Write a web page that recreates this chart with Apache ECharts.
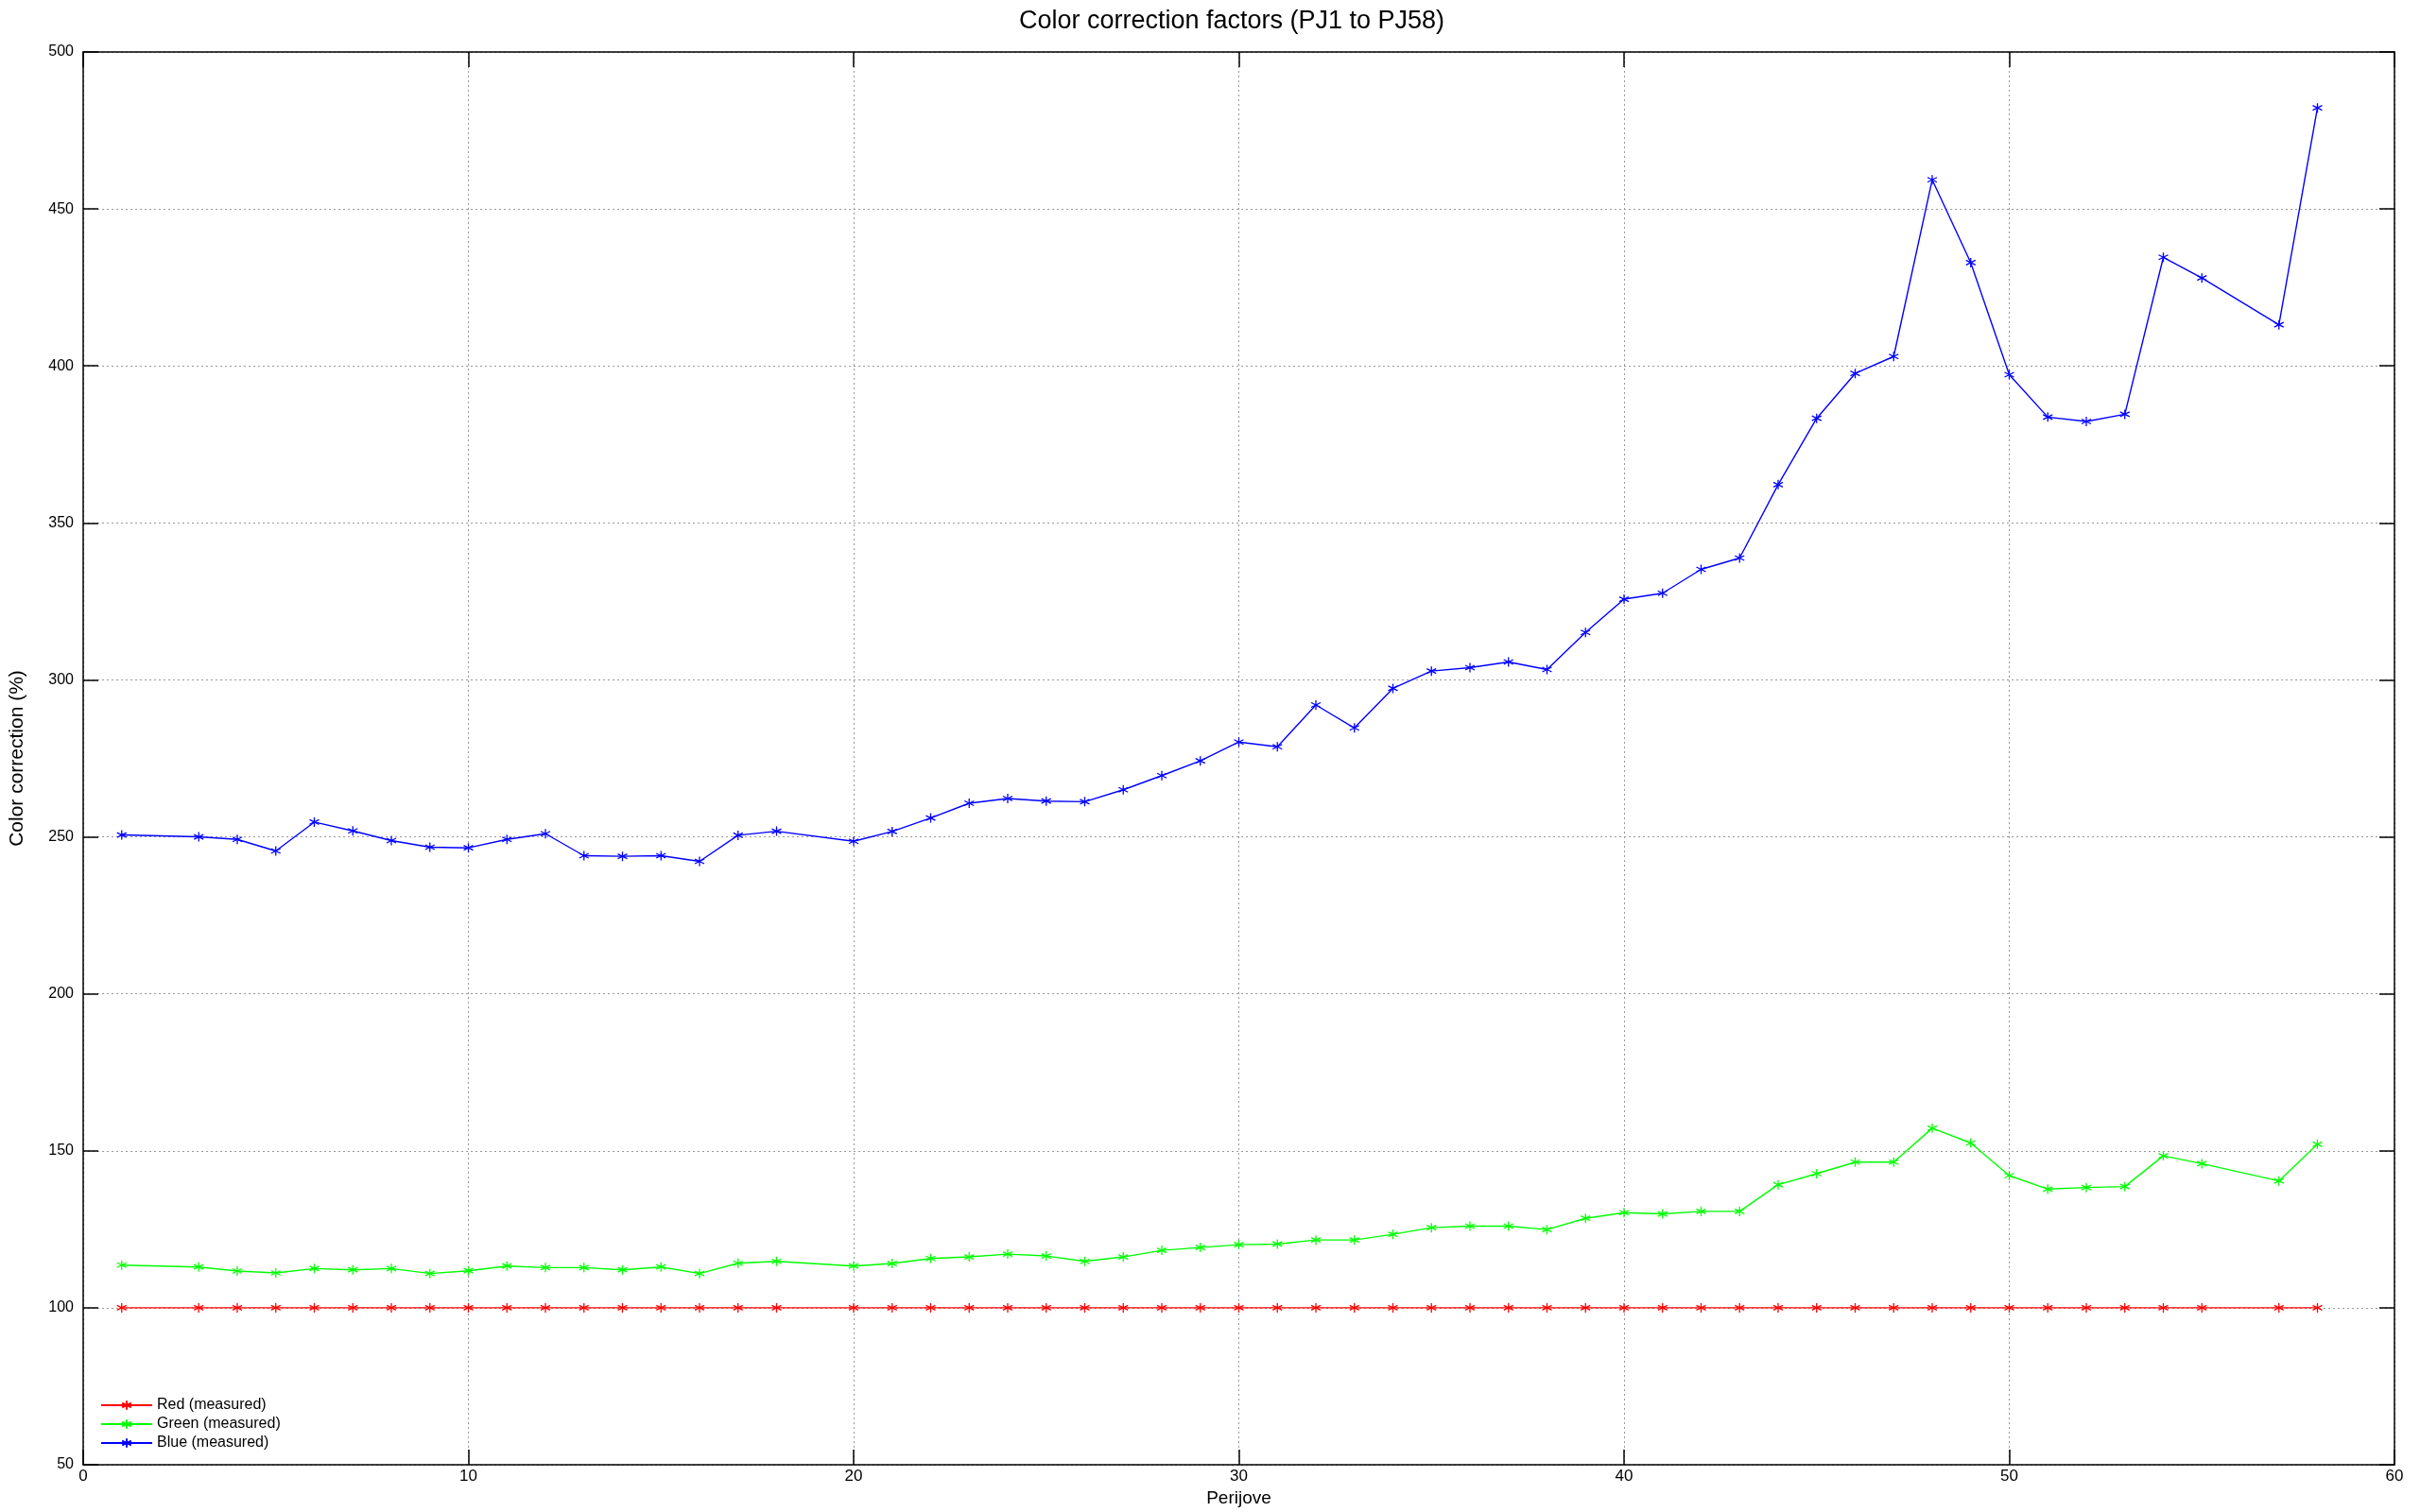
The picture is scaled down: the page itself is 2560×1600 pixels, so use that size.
<!DOCTYPE html>
<html>
<head>
<meta charset="utf-8">
<script src="https://cdn.jsdelivr.net/npm/echarts@6/dist/echarts.min.js"></script>
<style>
html,body{margin:0;padding:0;background:#fff;}
#chart{width:2560px;height:1600px;}
</style>
</head>
<body>
<div id="chart"></div>
<script>
var perijove = [1,3,4,5,6,7,8,9,10,11,12,13,14,15,16,17,18,20,21,22,23,24,25,26,27,28,29,30,31,32,33,34,35,36,37,38,39,40,41,42,43,44,45,46,47,48,49,50,51,52,53,54,55,57,58];
var redValues = [100,100,100,100,100,100,100,100,100,100,100,100,100,100,100,100,100,100,100,100,100,100,100,100,100,100,100,100,100,100,100,100,100,100,100,100,100,100,100,100,100,100,100,100,100,100,100,100,100,100,100,100,100,100,100];
var greenValues = [113.6,113.0,111.7,111.1,112.5,112.1,112.5,110.9,111.8,113.3,112.8,112.8,112.1,113.0,110.9,114.2,114.8,113.3,114.1,115.7,116.2,117.1,116.5,114.8,116.2,118.3,119.2,120.1,120.3,121.6,121.6,123.4,125.5,126.0,126.0,124.9,128.5,130.3,129.9,130.7,130.7,139.2,142.7,146.4,146.4,157.2,152.5,142.1,137.8,138.3,138.6,148.4,145.9,140.4,152.1];
var blueValues = [250.6,250.0,249.2,245.5,254.7,251.9,248.8,246.7,246.5,249.2,251.0,244.0,243.8,244.0,242.2,250.5,251.8,248.6,251.7,256.0,260.7,262.2,261.4,261.2,265.0,269.5,274.2,280.2,278.7,292.0,284.7,297.3,302.8,303.9,305.7,303.3,315.1,325.7,327.6,335.2,338.8,362.2,383.3,397.6,403.0,459.3,432.9,397.2,383.7,382.3,384.6,434.6,428.0,413.1,482.2];
var seriesNames = ['Red (measured)','Green (measured)','Blue (measured)'];
var xTicks = {min:0, max:60, interval:10};
var yTicks = {min:50, max:500, interval:50};

function pairs(vals){ return perijove.map(function(p,i){ return [p, vals[i]]; }); }

var FONT = '"Liberation Sans", Arial, Helvetica, sans-serif';
var STAR = 'path://M5,0L5,10M0.7,2.5L9.3,7.5M0.7,7.5L9.3,2.5';

function mkSeries(name, color, vals){
  return {
    name: name, type: 'line', data: pairs(vals),
    symbol: STAR, symbolSize: 10,
    lineStyle: {color: color, width: 1.4},
    itemStyle: {color: color, borderColor: color, borderWidth: 1.3},
    emphasis: {disabled: true},
    z: 3
  };
}

var chart = echarts.init(document.getElementById('chart'), null, {renderer:'canvas'});
var frameLine = {show:true, onZero:false, lineStyle:{color:'#000', width:1.5}};
var grid = {type:[2,3], color:'#999', width:1};
chart.setOption({
  animation: false,
  backgroundColor: '#fff',
  title: {
    text: 'Color correction factors (PJ1 to PJ58)',
    left: 1298, top: 4, textAlign: 'center',
    textStyle: {fontFamily: FONT, fontSize: 27, fontWeight: 'normal', color: '#000'}
  },
  grid: {left: 74, right: 27, top: 55, bottom: 47, containLabel: false},
  legend: {
    orient: 'vertical', left: 101, top: 1474,
    itemWidth: 54, itemHeight: 12, itemGap: 4,
    data: seriesNames,
    textStyle: {fontFamily: FONT, fontSize: 16, color: '#000', lineHeight: 16}
  },
  xAxis: [{
    type: 'value', position: 'bottom', min: xTicks.min, max: xTicks.max, interval: xTicks.interval,
    name: 'Perijove', nameLocation: 'middle', nameGap: 26,
    nameTextStyle: {fontFamily: FONT, fontSize: 19, color: '#000'},
    axisLine: frameLine,
    axisTick: {show:true, inside:true, length:16, lineStyle:{color:'#000', width:1.5}},
    axisLabel: {fontFamily: FONT, fontSize: 17, color:'#000', margin: 4},
    splitLine: {show:true, lineStyle: grid}
  },{
    type: 'value', position: 'top', min: xTicks.min, max: xTicks.max, interval: xTicks.interval,
    axisLine: frameLine,
    axisTick: {show:true, inside:true, length:16, lineStyle:{color:'#000', width:1.5}},
    axisLabel: {show:false}, splitLine: {show:false}
  }],
  yAxis: [{
    type: 'value', position: 'left', min: yTicks.min, max: yTicks.max, interval: yTicks.interval,
    name: 'Color correction (%)', nameLocation: 'middle', nameGap: 59, nameRotate: 90,
    nameTextStyle: {fontFamily: FONT, fontSize: 21, color: '#000'},
    axisLine: frameLine,
    axisTick: {show:true, inside:true, length:16, lineStyle:{color:'#000', width:1.5}},
    axisLabel: {fontFamily: FONT, fontSize: 16, color:'#000', margin: 10},
    splitLine: {show:true, lineStyle: grid}
  },{
    type: 'value', position: 'right', min: yTicks.min, max: yTicks.max, interval: yTicks.interval,
    axisLine: frameLine,
    axisTick: {show:true, inside:true, length:16, lineStyle:{color:'#000', width:1.5}},
    axisLabel: {show:false}, splitLine: {show:false}
  }],
  series: [
    mkSeries(seriesNames[0], '#ff0000', redValues),
    mkSeries(seriesNames[1], '#00ff00', greenValues),
    mkSeries(seriesNames[2], '#0000ff', blueValues)
  ]
});
</script>
</body>
</html>
